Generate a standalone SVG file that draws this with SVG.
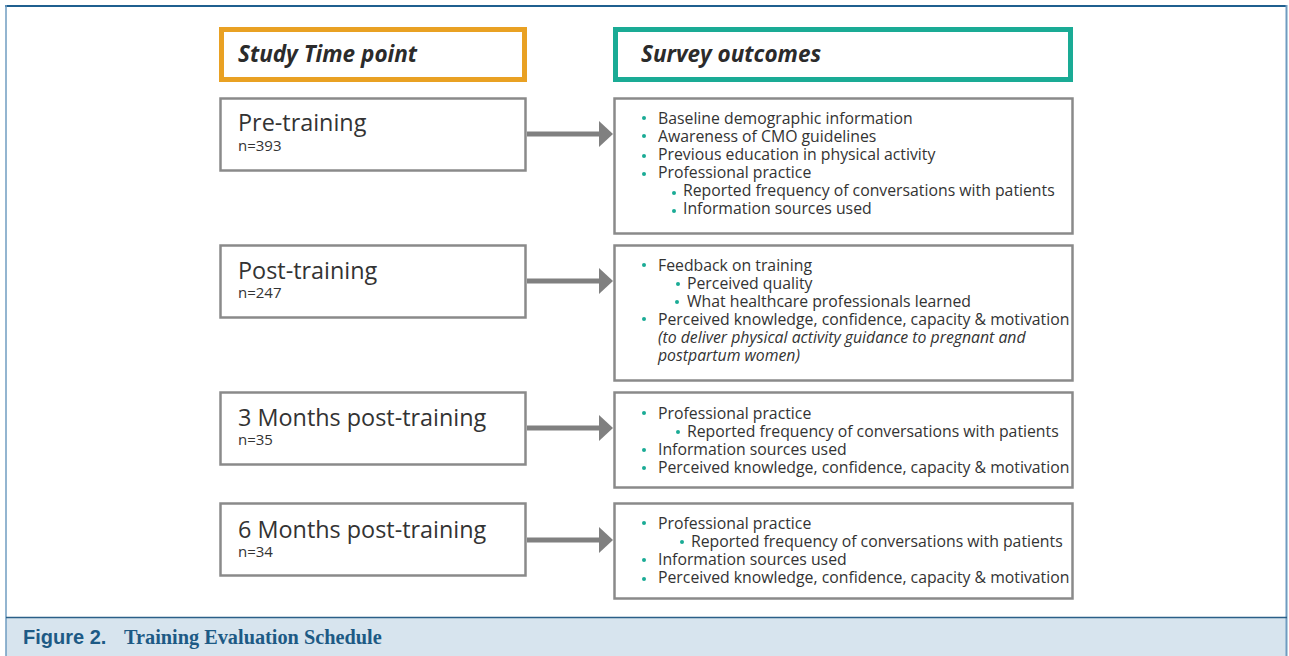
<svg xmlns="http://www.w3.org/2000/svg" width="1289" height="656" viewBox="0 0 1289 656">
<defs>
<style>
.box{fill:#ffffff;stroke:#8a8a8a;stroke-width:2.5}
.hdrL{fill:#ffffff;stroke:#e9a123;stroke-width:5}
.hdrR{fill:#ffffff;stroke:#1aab95;stroke-width:5}
.hdr{font-family:"Open Sans","Noto Sans",sans-serif;font-weight:700;font-style:italic;font-size:22.5px;fill:#2b2b2b}
.big{font-family:"Open Sans","Noto Sans",sans-serif;font-size:23.4px;fill:#333333}
.n{font-family:"Open Sans","Noto Sans",sans-serif;font-size:15px;fill:#333333}
.t{font-family:"Open Sans","Noto Sans",sans-serif;font-size:15.8px;fill:#333333}
.ti{font-family:"Open Sans","Noto Sans",sans-serif;font-size:15.8px;font-style:italic;fill:#333333}
.dot{fill:#1aab95}
.conn line{stroke:#808080;stroke-width:5}
.conn polygon{fill:#808080}
.capA{font-family:"Liberation Sans","Arial",sans-serif;font-weight:700;font-size:20px;fill:#1d5a85}
.capB{font-family:"Liberation Serif","Times New Roman",serif;font-weight:700;font-size:20.3px;fill:#1d5a85}
</style>
</defs>
<rect x="0" y="0" width="1289" height="656" fill="#ffffff"/>
<rect x="6" y="617" width="1280" height="39" fill="#d7e4ee"/>
<line x1="5" y1="6" x2="1287" y2="6" stroke="#1f5f8f" stroke-width="2"/>
<line x1="6" y1="5" x2="6" y2="656" stroke="#6f9cc0" stroke-width="1.5"/>
<line x1="1286.5" y1="5" x2="1286.5" y2="656" stroke="#6f9cc0" stroke-width="2"/>
<line x1="6" y1="617.5" x2="1287" y2="617.5" stroke="#2a5f88" stroke-width="1.5"/>

<g id="header-left">
<rect class="hdrL" x="221.5" y="29.5" width="303" height="50"/>
<text class="hdr" x="238" y="62">Study Time point</text>
</g>
<g id="header-right">
<rect class="hdrR" x="615.5" y="29.5" width="455" height="50"/>
<text class="hdr" x="641" y="62">Survey outcomes</text>
</g>

<g id="pre-training">
<rect class="box" x="220.5" y="98.5" width="305" height="72"/>
<text class="big" x="238" y="131">Pre-training</text>
<text class="n" x="238" y="151">n=393</text>
</g>
<g id="post-training">
<rect class="box" x="220.5" y="245.5" width="305" height="72"/>
<text class="big" x="238" y="279">Post-training</text>
<text class="n" x="238" y="298">n=247</text>
</g>
<g id="months-3">
<rect class="box" x="220.5" y="392.5" width="305" height="72"/>
<text class="big" x="238" y="426">3 Months post-training</text>
<text class="n" x="238" y="445">n=35</text>
</g>
<g id="months-6">
<rect class="box" x="220.5" y="503.5" width="305" height="72"/>
<text class="big" x="238" y="538">6 Months post-training</text>
<text class="n" x="238" y="557">n=34</text>
</g>

<g id="outcomes-pre">
<rect class="box" x="614.5" y="98.5" width="458" height="135"/>
<circle class="dot" cx="644" cy="118" r="2"/><text class="t" x="658" y="124">Baseline demographic information</text>
<circle class="dot" cx="644" cy="136" r="2"/><text class="t" x="658" y="142">Awareness of CMO guidelines</text>
<circle class="dot" cx="644" cy="156" r="2"/><text class="t" x="658" y="160">Previous education in physical activity</text>
<circle class="dot" cx="644" cy="174" r="2"/><text class="t" x="658" y="178">Professional practice</text>
<circle class="dot" cx="674" cy="193" r="2"/><text class="t" x="683" y="196">Reported frequency of conversations with patients</text>
<circle class="dot" cx="674" cy="211" r="2"/><text class="t" x="683" y="214">Information sources used</text>
</g>
<g id="outcomes-post">
<rect class="box" x="614.5" y="245.5" width="458" height="135"/>
<circle class="dot" cx="644" cy="265" r="2"/><text class="t" x="658" y="271">Feedback on training</text>
<circle class="dot" cx="678" cy="284" r="2"/><text class="t" x="687" y="289">Perceived quality</text>
<circle class="dot" cx="677" cy="302" r="2"/><text class="t" x="687" y="307">What healthcare professionals learned</text>
<circle class="dot" cx="644" cy="319" r="2"/><text class="t" x="658" y="325">Perceived knowledge, confidence, capacity &amp; motivation</text>
<text class="ti" x="658" y="343">(to deliver physical activity guidance to pregnant and</text>
<text class="ti" x="658" y="361">postpartum women)</text>
</g>
<g id="outcomes-3m">
<rect class="box" x="614.5" y="392.5" width="458" height="95"/>
<circle class="dot" cx="644" cy="413" r="2"/><text class="t" x="658" y="419">Professional practice</text>
<circle class="dot" cx="678" cy="432" r="2"/><text class="t" x="687" y="437">Reported frequency of conversations with patients</text>
<circle class="dot" cx="644" cy="450" r="2"/><text class="t" x="658" y="455">Information sources used</text>
<circle class="dot" cx="644" cy="468" r="2"/><text class="t" x="658" y="473">Perceived knowledge, confidence, capacity &amp; motivation</text>
</g>
<g id="outcomes-6m">
<rect class="box" x="614.5" y="503.5" width="458" height="95"/>
<circle class="dot" cx="644" cy="523" r="2"/><text class="t" x="658" y="529">Professional practice</text>
<circle class="dot" cx="682" cy="542" r="2"/><text class="t" x="691" y="547">Reported frequency of conversations with patients</text>
<circle class="dot" cx="644" cy="560" r="2"/><text class="t" x="658" y="565">Information sources used</text>
<circle class="dot" cx="644" cy="579" r="2"/><text class="t" x="658" y="583">Perceived knowledge, confidence, capacity &amp; motivation</text>
</g>

<g id="connectors" class="conn">
<line x1="527" y1="134" x2="600" y2="134"/><polygon points="599,121 613,134 599,147"/>
<line x1="527" y1="281" x2="600" y2="281"/><polygon points="599,268 613,281 599,294"/>
<line x1="527" y1="428" x2="600" y2="428"/><polygon points="599,415 613,428 599,441"/>
<line x1="527" y1="540" x2="600" y2="540"/><polygon points="599,527 613,540 599,553"/>
</g>

<g id="caption">
<text class="capA" x="23" y="644">Figure 2.</text>
<text class="capB" x="124" y="644">Training Evaluation Schedule</text>
</g>
</svg>
